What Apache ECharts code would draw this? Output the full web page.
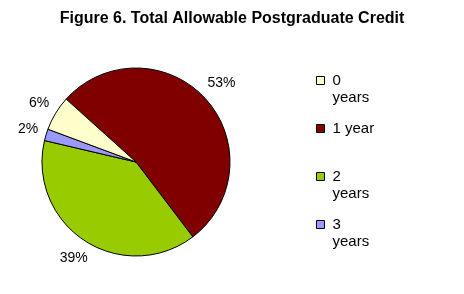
<!DOCTYPE html>
<html>
<head>
<meta charset="utf-8">
<script src="https://cdn.jsdelivr.net/npm/echarts@6/dist/echarts.min.js"></script>
<style>
html,body{margin:0;padding:0;background:#fff;}
#c{width:464px;height:294px;}
</style>
</head>
<body>
<div id="c"></div>
<script>
// ---- data ----
const titleText = 'Figure 6. Total Allowable Postgraduate Credit';
const categories = ['0 years', '1 year', '2 years', '3 years'];
const values = [6, 53, 39, 2];
const legendLabels = [' \n0\nyears', ' \n1 year\n ', ' \n2\nyears', ' \n3\nyears'];
// drawing order of the slices (clockwise from the start angle)
const sliceOrder = [1, 2, 3, 0];

// ---- styles ----
const colors = ['#FFFFCC', '#800000', '#99CC00', '#9999FF'];
const FONT = 'Liberation Sans, Arial, Helvetica, sans-serif';
const CX = 136, CY = 162, R = 94, START = 138, GAP = 7;

const total = values.reduce((a, b) => a + b, 0);
const pieData = sliceOrder.map(i => ({
  name: categories[i],
  value: values[i],
  itemStyle: { color: colors[i] }
}));

function midAngle(idx) {
  let acc = 0;
  for (let k = 0; k < idx; k++) acc += pieData[k].value;
  const mid = acc + pieData[idx].value / 2;
  return (START - mid / total * 360) * Math.PI / 180;
}

const legends = categories.map((name, i) => ({
  data: [name],
  orient: 'vertical',
  left: 316,
  top: 55 + i * 48,
  padding: 0,
  icon: 'rect',
  itemWidth: 8,
  itemHeight: 8,
  itemStyle: { borderColor: '#000', borderWidth: 1 },
  selectedMode: false,
  formatter: () => legendLabels[i],
  textStyle: {
    fontFamily: FONT,
    fontSize: 15,
    lineHeight: 17,
    color: '#000',
    padding: [0, 0, 0, 3]
  }
}));

const chart = echarts.init(document.getElementById('c'), null, { renderer: 'canvas' });
chart.setOption({
  animation: false,
  backgroundColor: '#fff',
  title: {
    text: titleText,
    left: 'center',
    top: 11,
    padding: 0,
    textStyle: { fontFamily: FONT, fontSize: 16, fontWeight: 'bold', color: '#000' }
  },
  legend: legends,
  series: [{
    type: 'pie',
    center: [CX, CY],
    radius: R,
    startAngle: START,
    clockwise: true,
    avoidLabelOverlap: false,
    data: pieData,
    itemStyle: { borderColor: '#000', borderWidth: 1 },
    emphasis: { disabled: true },
    label: {
      show: true,
      position: 'outside',
      fontFamily: FONT,
      fontSize: 14,
      color: '#000',
      formatter: p => Math.round(p.percent) + '%'
    },
    labelLine: { show: false, length: 10, length2: 0 },
    labelLayout: function (params) {
      const a = midAngle(params.dataIndex);
      const c = Math.cos(a), s = Math.sin(a);
      const w = params.labelRect.width, h = params.labelRect.height;
      const ext = Math.abs(c) * w / 2 + Math.abs(s) * h / 2;
      const d = R + GAP + ext;
      return { x: CX + c * d, y: CY - s * d, align: 'center', verticalAlign: 'middle' };
    }
  }]
});
</script>
</body>
</html>
